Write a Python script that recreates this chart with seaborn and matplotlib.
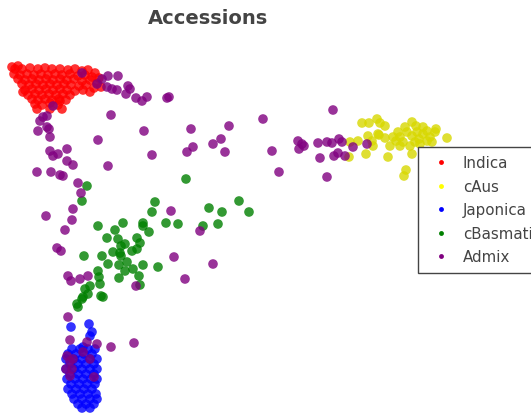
import numpy as np
import pandas as pd
import matplotlib
matplotlib.use("Agg")
import matplotlib.pyplot as plt
import seaborn as sns
from matplotlib.lines import Line2D

# --- Dati (coordinate) ---
gruppi = ['Indica', 'cAus', 'Japonica', 'cBasmati', 'Admix']
colori = ['#ff0000', '#d8d800', '#0000ff', '#008000', '#800080']
colori_legenda = ['#ff0000', '#ffff00', '#0000ff', '#008000', '#800080']

indica = [(12, 68), (18, 67), (15, 70), (22, 70), (30, 69), (38, 70), (45, 69), (52, 70), (60, 70),
          (68, 71), (75, 70), (82, 72), (88, 71), (95, 74),
          (14, 75), (20, 76), (27, 75), (34, 76), (41, 75), (48, 76), (55, 75), (62, 76), (70, 75),
          (78, 77), (85, 76), (92, 78), (99, 79),
          (18, 80), (25, 81), (32, 80), (39, 81), (46, 80), (53, 81), (60, 80), (67, 81), (74, 80),
          (82, 82), (90, 81), (97, 84), (101, 88),
          (22, 85), (29, 86), (36, 85), (43, 86), (50, 85), (57, 86), (64, 85), (71, 86), (79, 87),
          (86, 86), (94, 89),
          (25, 91), (32, 90), (39, 91), (46, 90), (53, 91), (60, 90), (67, 91), (75, 92), (83, 91), (90, 93),
          (28, 96), (35, 95), (42, 96), (49, 95), (56, 96), (63, 95), (70, 96),
          (32, 100), (38, 101), (45, 100), (52, 101), (59, 100), (66, 101),
          (35, 105), (42, 106), (50, 104), (58, 106), (23, 93),
          (37, 110), (50, 110), (62, 110), (60, 102)]

caus = [(362, 124), (369, 124), (377, 120), (380, 124), (385, 127), (412, 123), (416, 127), (423, 128),
        (368, 137), (372, 142), (379, 136), (385, 139), (358, 142), (350, 143), (373, 147), (390, 147),
        (400, 147), (410, 147), (366, 155), (349, 158), (388, 158), (412, 155), (406, 171), (404, 177),
        (398, 133), (400, 138), (407, 133), (412, 137), (417, 133), (423, 135), (427, 132), (430, 138),
        (435, 133), (447, 139), (396, 142), (403, 143), (419, 140), (427, 142), (432, 143), (415, 143),
        (378, 135), (436, 130), (405, 128), (420, 145), (393, 138)]

japonica = [(89, 325), (71, 328), (92, 333), (90, 337), (83, 348),
            (72, 350), (80, 350), (88, 350), (95, 350),
            (68, 355), (76, 355), (84, 355), (92, 355),
            (66, 360), (74, 360), (82, 360), (90, 360), (97, 360),
            (70, 365), (78, 365), (86, 365), (94, 365),
            (66, 370), (74, 370), (82, 370), (90, 370), (97, 370),
            (70, 375), (78, 375), (86, 375), (94, 375),
            (67, 380), (75, 380), (83, 380), (91, 380), (97, 380),
            (71, 385), (79, 385), (87, 385), (95, 385),
            (68, 390), (76, 390), (84, 390), (92, 390),
            (72, 395), (80, 395), (88, 395), (96, 395),
            (74, 400), (82, 400), (90, 400), (97, 400),
            (78, 405), (86, 405), (94, 405),
            (82, 409), (90, 409)]

cbasmati = [(186, 180), (87, 187), (82, 202), (155, 203), (152, 213), (239, 202), (209, 209), (222, 213),
            (249, 213), (98, 227), (123, 224), (143, 224), (143, 227), (149, 233), (115, 231), (166, 224),
            (178, 225), (218, 225), (203, 227), (107, 239), (118, 240), (125, 245), (137, 239), (140, 244),
            (137, 250), (132, 252), (121, 247), (120, 254), (113, 253), (84, 257), (102, 257), (121, 257),
            (127, 263), (119, 266), (108, 265), (143, 266), (158, 268), (98, 272), (133, 270), (125, 272),
            (139, 277), (99, 278), (119, 279), (100, 285), (90, 287), (85, 290), (88, 295), (140, 286),
            (83, 298), (101, 297), (103, 298), (77, 305), (78, 308), (82, 300)]

admix = [(82, 74), (97, 85), (102, 80), (108, 77), (118, 77), (107, 88), (112, 90), (117, 91), (128, 87),
         (130, 90), (126, 95), (136, 99), (142, 102), (147, 98), (169, 98), (167, 99),
         (53, 107), (43, 118), (47, 117), (40, 122), (47, 128), (49, 130), (38, 132), (50, 138),
         (50, 152), (53, 157), (58, 155), (67, 150), (67, 162), (73, 166), (37, 173), (51, 173),
         (60, 176), (63, 177), (78, 184), (81, 194), (73, 210), (72, 221), (46, 217), (65, 231),
         (57, 249), (61, 252), (68, 277), (71, 282), (80, 280), (88, 277), (68, 318),
         (111, 116), (144, 132), (98, 141), (191, 130), (229, 127), (263, 120), (221, 140), (213, 145),
         (193, 148), (187, 153), (225, 153), (272, 152), (279, 173), (152, 156), (108, 167),
         (171, 212), (200, 232), (174, 258), (213, 265), (185, 280), (136, 287),
         (333, 111), (298, 142), (302, 145), (299, 150), (304, 147), (318, 144), (327, 143), (332, 144),
         (339, 140), (342, 143), (353, 148), (367, 145), (320, 159), (334, 157), (338, 154), (345, 157),
         (327, 178),
         (70, 341), (97, 345), (111, 348), (134, 344), (87, 343), (83, 353), (67, 357), (70, 362),
         (73, 360), (66, 370), (72, 370), (90, 360), (94, 378), (70, 377)]

punti = [indica, caus, japonica, cbasmati, admix]
righe = []
for g, lista in zip(gruppi, punti):
    for x, y in lista:
        righe.append({'x': x, 'y': y, 'gruppo': g})
df = pd.DataFrame(righe)

# --- Figura ---
sns.set_style('white')
fig = plt.figure(figsize=(5.31, 4.14), dpi=100)
ax = fig.add_axes([0, 0, 1, 1])
sns.scatterplot(data=df, x='x', y='y', hue='gruppo', hue_order=gruppi,
                palette=dict(zip(gruppi, colori)), s=48, alpha=0.8,
                edgecolor='none', legend=False, ax=ax)
ax.set_xlim(0, 531)
ax.set_ylim(414, 0)
ax.axis('off')

fig.text(208 / 531, 1 - 18 / 414, 'Accessions', ha='center', va='center',
         fontsize=14, fontweight='bold', color='#444444')

# legenda (tagliata a destra come nell'originale)
handles = [Line2D([], [], marker='o', linestyle='none', markersize=3.5,
                  markerfacecolor=c, markeredgecolor='none') for c in colori_legenda]
leg = ax.legend(handles, gruppi, loc='upper left',
                bbox_to_anchor=(418 / 531, 1 - 148 / 414), bbox_transform=fig.transFigure,
                fontsize=10.8, frameon=True, fancybox=False, framealpha=1,
                edgecolor='#444444', handlelength=1.97, handletextpad=0.48,
                labelspacing=0.57, borderpad=0.55, borderaxespad=0)
leg.get_frame().set_linewidth(1)
for t in leg.get_texts():
    t.set_color('#444444')

fig.savefig('out.png', dpi=100)
